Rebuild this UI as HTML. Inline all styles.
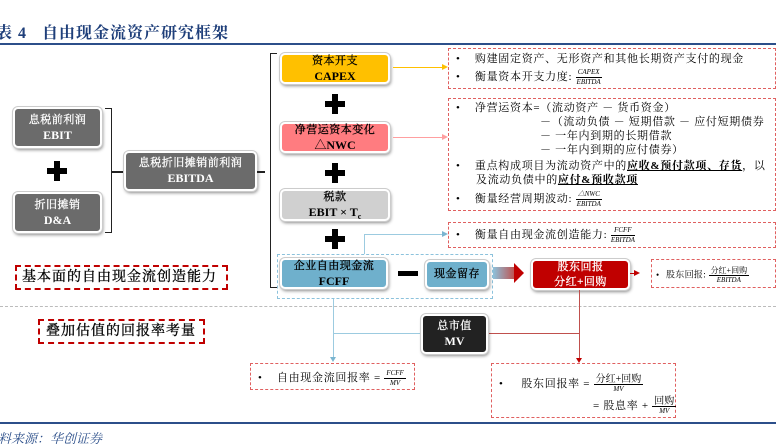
<!DOCTYPE html>
<html><head><meta charset="utf-8"><style>
*{margin:0;padding:0;box-sizing:border-box}
body{width:776px;height:447px;position:relative;background:#fff;overflow:hidden;font-family:"Liberation Serif","Noto Serif CJK SC",serif;color:#000}
.a{position:absolute}
.box{position:absolute;border-radius:5px;border:2px solid #fff;box-shadow:0 0 0 1px #ccc,1px 2px 3px rgba(0,0,0,.45);text-align:center;font-weight:bold;display:flex;flex-direction:column;justify-content:center;line-height:15px;font-size:12px}
.box div{white-space:nowrap}
.box .c{font-size:11px;font-weight:normal;-webkit-text-stroke:0.3px currentColor;letter-spacing:0.5px}
.g{background:#6b6b6b;color:#fff}
.plus{position:absolute;width:20px;height:20px}
.plus:before{content:"";position:absolute;left:7px;top:0;width:6px;height:20px;background:#000}
.plus:after{content:"";position:absolute;left:0;top:7px;width:20px;height:6px;background:#000}
.rd{position:absolute;border:1px dashed #e06060}
.t{font-family:"Liberation Serif","Noto Serif CJK SC",serif;font-size:11px;line-height:14px;position:absolute;white-space:nowrap;letter-spacing:0.7px}
.fr{display:inline-block;vertical-align:middle;text-align:center;font-style:italic;font-size:7px;line-height:9px;letter-spacing:0}
.fr span{display:block}
.fr .n{border-bottom:1px solid #000;padding:0 2px}
.dot{display:inline-block;width:12px}
</style></head><body>
<div class="a" style="left:-4px;top:20px;font-size:16px;font-weight:bold;color:#1f3f7a;letter-spacing:1px">表 4&nbsp;&nbsp;&nbsp;自由现金流资产研究框架</div>
<div class="a" style="left:0;top:43px;width:776px;height:2px;background:#2c4f8a"></div>

<div class="box g" style="left:13px;top:107px;width:89px;height:41px"><div class="c">息税前利润</div><div>EBIT</div></div>
<div class="plus" style="left:47px;top:161px"></div>
<div class="box g" style="left:13px;top:192px;width:89px;height:41px"><div class="c">折旧摊销</div><div>D&amp;A</div></div>
<div class="a" style="left:105px;top:108px;width:7px;height:125px;border:1.5px solid #222;border-left:none"></div>
<div class="a" style="left:112px;top:171px;width:12px;height:1.5px;background:#222"></div>
<div class="box g" style="left:124px;top:151px;width:133px;height:40px"><div class="c">息税折旧摊销前利润</div><div>EBITDA</div></div>
<div class="a" style="left:257px;top:171px;width:8px;height:1.5px;background:#222"></div>
<div class="a" style="left:270px;top:53px;width:7px;height:235px;border:1.5px solid #222;border-right:none"></div>

<div class="box" style="left:280px;top:53px;width:110px;height:31px;background:#ffc000"><div class="c">资本开支</div><div>CAPEX</div></div>
<div class="plus" style="left:325px;top:94px"></div>
<div class="box" style="left:280px;top:122px;width:110px;height:31px;background:#ff7c80"><div class="c">净营运资本变化</div><div>△NWC</div></div>
<div class="plus" style="left:325px;top:163px"></div>
<div class="box" style="left:280px;top:189px;width:110px;height:32px;background:#d0d0d0"><div class="c">税款</div><div>EBIT × T<span style="font-size:8px;position:relative;top:3px">c</span></div></div>
<div class="plus" style="left:325px;top:229px"></div>

<div class="a" style="left:277px;top:254px;width:216px;height:45px;border:1.5px dashed #8cc2dc"></div>
<div class="box" style="left:280px;top:258px;width:108px;height:31px;background:#6fb0cc"><div class="c">企业自由现金流</div><div>FCFF</div></div>
<div class="a" style="left:398px;top:271px;width:20px;height:5px;background:#000"></div>
<div class="box" style="left:425px;top:260px;width:64px;height:29px;background:#6fb0cc"><div class="c">现金留存</div></div>
<div class="a" style="left:493px;top:267px;width:22px;height:12px;background:linear-gradient(90deg,#8cc2dc,#c0504d)"></div>
<div class="a" style="left:514px;top:263px;width:0;height:0;border-left:10px solid #c00000;border-top:10px solid transparent;border-bottom:10px solid transparent"></div>
<div class="box" style="left:531px;top:259px;width:99px;height:31px;background:#c00000;color:#fff"><div class="c">股东回报</div><div class="c">分红+回购</div></div>

<div class="a" style="left:393px;top:67px;width:50px;height:1px;background:#ffc000"></div>
<div class="a" style="left:442px;top:64px;border-left:6px solid #ffc000;border-top:3px solid transparent;border-bottom:3px solid transparent"></div>
<div class="a" style="left:393px;top:137px;width:50px;height:1px;background:#ff9fa0"></div>
<div class="a" style="left:442px;top:134px;border-left:6px solid #ff9fa0;border-top:3px solid transparent;border-bottom:3px solid transparent"></div>
<div class="a" style="left:364px;top:234px;width:1px;height:20px;background:#9ccbe0"></div>
<div class="a" style="left:364px;top:234px;width:79px;height:1px;background:#9ccbe0"></div>
<div class="a" style="left:442px;top:231px;border-left:6px solid #7ab5d0;border-top:3px solid transparent;border-bottom:3px solid transparent"></div>
<div class="a" style="left:630px;top:273px;width:6px;height:1px;background:#c00000"></div>
<div class="a" style="left:634px;top:270px;border-left:6px solid #c00000;border-top:3px solid transparent;border-bottom:3px solid transparent"></div>

<div class="rd" style="left:448px;top:48px;width:328px;height:41px"></div>
<div class="t" style="left:456px;top:52px"><span class="dot">•</span>&nbsp;&nbsp;购建固定资产、无形资产和其他长期资产支付的现金</div>
<div class="t" style="left:456px;top:68px"><span class="dot">•</span>&nbsp;&nbsp;衡量资本开支力度: <span class="fr"><span class="n">CAPEX</span><span>EBITDA</span></span></div>

<div class="rd" style="left:448px;top:98px;width:328px;height:113px"></div>
<div class="t" style="left:456px;top:101px;line-height:14px"><span class="dot">•</span>&nbsp;&nbsp;净营运资本=（流动资产 － 货币资金）<br><span style="padding-left:84px">－（流动负债 － 短期借款 － 应付短期债券</span><br><span style="padding-left:84px">－ 一年内到期的长期借款</span><br><span style="padding-left:84px">－ 一年内到期的应付债券）</span></div>
<div class="t" style="left:456px;top:159px;line-height:14px"><span class="dot">•</span>&nbsp;&nbsp;重点构成项目为流动资产中的<b><u>应收&amp;预付款项、存货</u></b>，以<br><span style="padding-left:20px">及流动负债中的<b><u>应付&amp;预收款项</u></b></span></div>
<div class="t" style="left:456px;top:190px"><span class="dot">•</span>&nbsp;&nbsp;衡量经营周期波动: <span class="fr"><span class="n">△NWC</span><span>EBITDA</span></span></div>

<div class="rd" style="left:448px;top:222px;width:328px;height:26px"></div>
<div class="t" style="left:456px;top:226px"><span class="dot">•</span>&nbsp;&nbsp;衡量自由现金流创造能力: <span class="fr"><span class="n">FCFF</span><span>EBITDA</span></span></div>

<div class="rd" style="left:651px;top:259px;width:125px;height:29px"></div>
<div class="t" style="left:656px;top:266px;font-size:9px;letter-spacing:0.3px"><span style="display:inline-block;width:10px">•</span>股东回报: <span class="fr"><span class="n" style="font-style:normal;font-size:8px">分红+回购</span><span>EBITDA</span></span></div>

<div class="a" style="left:15px;top:265px;width:213px;height:25px;border:2px dashed #c00000;font-size:14px;line-height:21px;padding-left:5px;letter-spacing:1px;-webkit-text-stroke:0.3px #000;white-space:nowrap">基本面的自由现金流创造能力</div>

<div class="a" style="left:0;top:306px;width:776px;border-top:1px dashed #bbb"></div>

<div class="a" style="left:38px;top:319px;width:167px;height:25px;border:2px dashed #c00000;font-size:14px;line-height:21px;padding-left:6px;letter-spacing:1px;-webkit-text-stroke:0.3px #000;white-space:nowrap">叠加估值的回报率考量</div>

<div class="a" style="left:333px;top:299px;width:1px;height:58px;background:#9ccbe0"></div>
<div class="a" style="left:333px;top:333px;width:88px;height:1px;background:#9ccbe0"></div>
<div class="a" style="left:330px;top:357px;border-top:5px solid #7ab5d0;border-left:3px solid transparent;border-right:3px solid transparent"></div>
<div class="a" style="left:579px;top:290px;width:1px;height:68px;background:#c0504d"></div>
<div class="a" style="left:488px;top:333px;width:91px;height:1px;background:#c0504d"></div>
<div class="a" style="left:576px;top:358px;border-top:5px solid #c00000;border-left:3px solid transparent;border-right:3px solid transparent"></div>

<div class="box" style="left:421px;top:314px;width:67px;height:40px;background:#222;color:#fff"><div class="c">总市值</div><div>MV</div></div>

<div class="rd" style="left:250px;top:363px;width:165px;height:27px"></div>
<div class="t" style="left:258px;top:369px"><span class="dot">•</span>&nbsp;&nbsp;自由现金流回报率 = <span class="fr"><span class="n">FCFF</span><span>MV</span></span></div>

<div class="rd" style="left:491px;top:363px;width:185px;height:55px"></div>
<div class="t" style="left:499px;top:375px"><span class="dot">•</span>&nbsp;&nbsp;&nbsp;股东回报率 = <span class="fr"><span class="n" style="font-style:normal;font-size:10px">分红+回购</span><span>MV</span></span></div>
<div class="t" style="left:593px;top:397px">= 股息率 + <span class="fr"><span class="n" style="font-style:normal;font-size:10px">回购</span><span>MV</span></span></div>

<div class="a" style="left:0;top:422px;width:776px;height:2px;background:#2c4f8a"></div>
<div class="a" style="left:-2px;top:428px;font-size:13px;font-style:italic;color:#2c4f8a">料来源：华创证券</div>
</body></html>
